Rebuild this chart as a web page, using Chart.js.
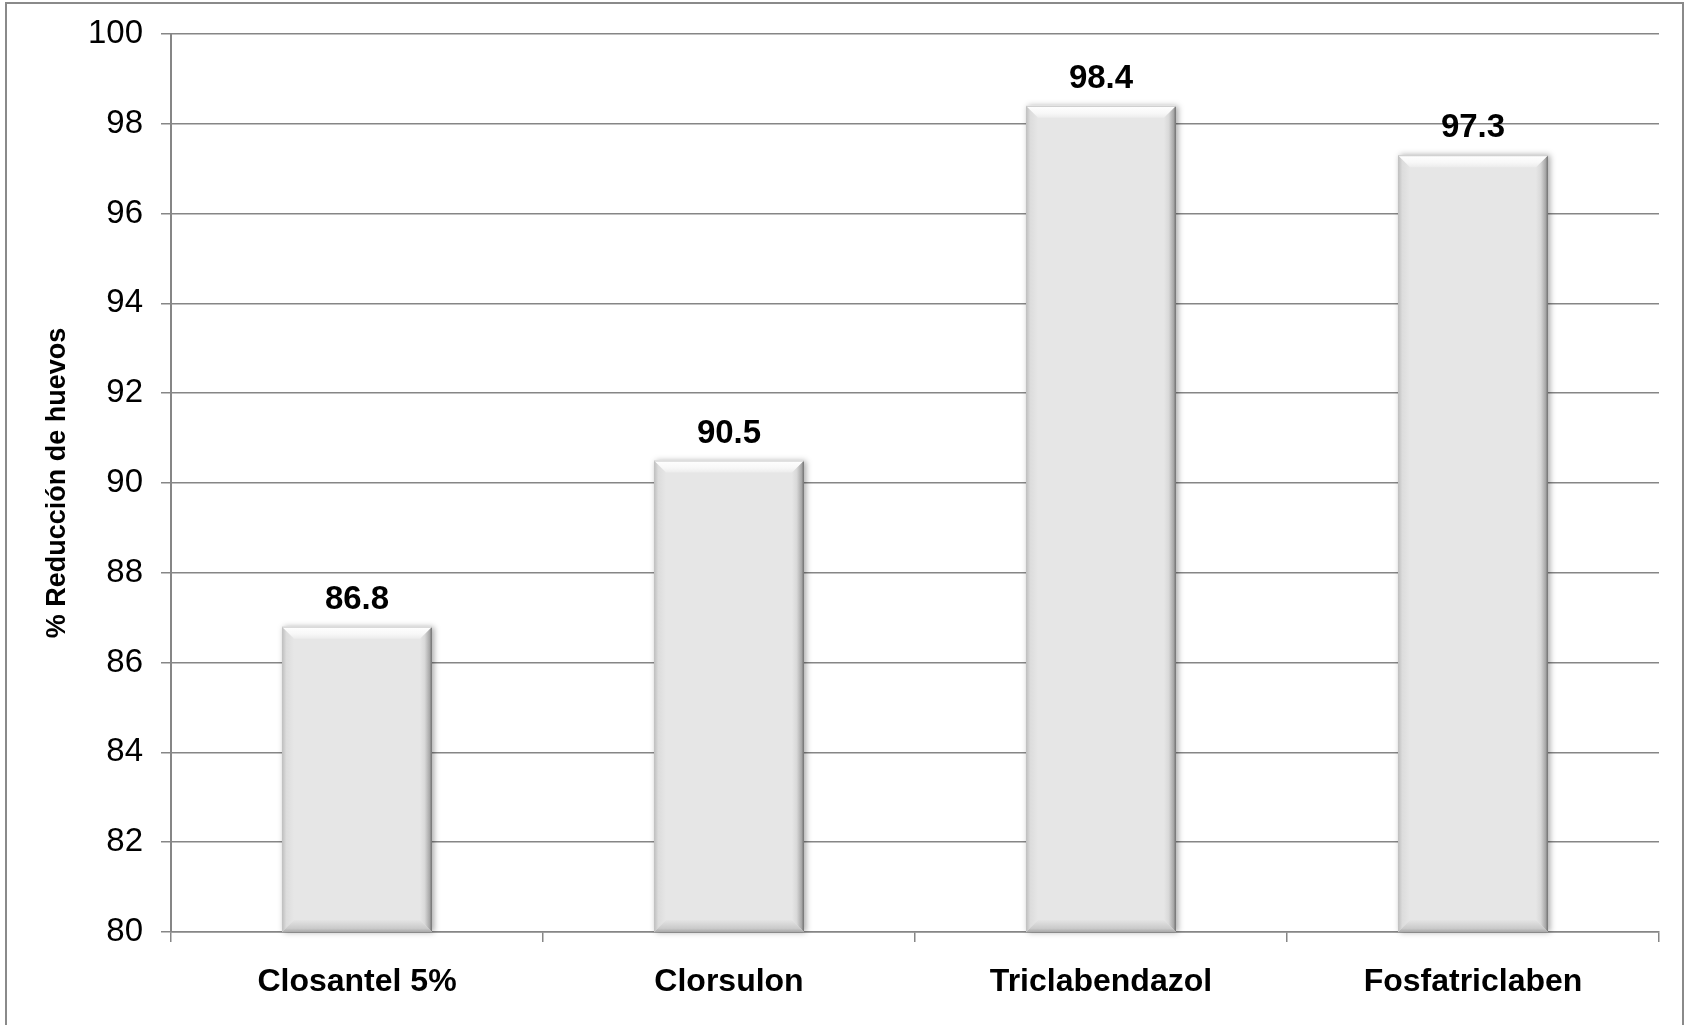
<!DOCTYPE html>
<html>
<head>
<meta charset="utf-8">
<title>% Reducción de huevos</title>
<script src="https://cdn.jsdelivr.net/npm/chart.js@4.4.1/dist/chart.umd.min.js"></script>
<style>
  html, body { margin: 0; padding: 0; background: #ffffff; }
  canvas { display: block; }
</style>
</head>
<body>
<canvas id="chart" width="1688" height="1025"></canvas>
<script>
// Egg count reduction per treatment
const categories = ['Closantel 5%', 'Clorsulon', 'Triclabendazol', 'Fosfatriclaben'];
const reduction = [86.8, 90.5, 98.4, 97.3];
const yMin = 80;
const yMax = 100;
const yStep = 2;

const FONT = "'Liberation Sans', Arial, Helvetica, sans-serif";
const AXIS_GRAY = '#868686';

// Outer frame around the whole chart
const framePlugin = {
  id: 'frame',
  beforeDraw(chart) {
    const ctx = chart.ctx;
    ctx.save();
    ctx.strokeStyle = '#8a8a8a';
    ctx.lineWidth = 2;
    ctx.strokeRect(6, 3, chart.width - 11, chart.height + 10);
    ctx.restore();
  }
};

// Bar geometry in pixels, with the base held at the bottom of the plot area
function barBox(chart, bar) {
  const { x, y, base, width } = bar.getProps(['x', 'y', 'base', 'width'], true);
  const bottom = Math.min(base, chart.chartArea.bottom);
  return { x, l: x - width / 2, r: x + width / 2, t: y, bo: bottom, width };
}

// Soft drop shadow behind each bar
const barShadowPlugin = {
  id: 'barShadow',
  beforeDatasetsDraw(chart) {
    const ctx = chart.ctx;
    const meta = chart.getDatasetMeta(0);
    ctx.save();
    meta.data.forEach(bar => {
      const { l, t, bo, width } = barBox(chart, bar);
      ctx.shadowColor = 'rgba(0,0,0,0.35)';
      ctx.shadowBlur = 6;
      ctx.shadowOffsetX = 2;
      ctx.shadowOffsetY = 0;
      ctx.fillStyle = '#e6e6e6';
      ctx.fillRect(l, t, width, bo - t);
    });
    ctx.restore();
  }
};

// Bevelled edges on the bars plus the value label above each one
const bevelPlugin = {
  id: 'bevel',
  afterDatasetsDraw(chart) {
    const ctx = chart.ctx;
    const meta = chart.getDatasetMeta(0);
    const b = 12;
    ctx.save();
    meta.data.forEach((bar, i) => {
      const { x, l, r, t, bo } = barBox(chart, bar);

      const poly = (pts, fill) => {
        ctx.beginPath();
        ctx.moveTo(pts[0][0], pts[0][1]);
        for (let k = 1; k < pts.length; k++) ctx.lineTo(pts[k][0], pts[k][1]);
        ctx.closePath();
        ctx.fillStyle = fill;
        ctx.fill();
      };

      // left face
      let g = ctx.createLinearGradient(l, 0, l + b, 0);
      g.addColorStop(0, '#bdbdbd');
      g.addColorStop(0.35, '#dcdcdc');
      g.addColorStop(1, '#e6e6e6');
      poly([[l, t], [l + b, t + b], [l + b, bo - b], [l, bo]], g);

      // right face
      g = ctx.createLinearGradient(r, 0, r - b, 0);
      g.addColorStop(0, '#6c6c6c');
      g.addColorStop(0.2, '#a8a8a8');
      g.addColorStop(0.6, '#d8d8d8');
      g.addColorStop(1, '#e6e6e6');
      poly([[r, t], [r, bo], [r - b, bo - b], [r - b, t + b]], g);

      // top face
      g = ctx.createLinearGradient(0, t, 0, t + b);
      g.addColorStop(0, '#ffffff');
      g.addColorStop(0.6, '#f8f8f8');
      g.addColorStop(1, '#ececec');
      poly([[l, t], [r, t], [r - b, t + b], [l + b, t + b]], g);

      // bottom face
      g = ctx.createLinearGradient(0, bo, 0, bo - b);
      g.addColorStop(0, '#a8a8a8');
      g.addColorStop(0.3, '#cacaca');
      g.addColorStop(1, '#e4e4e4');
      poly([[l, bo], [r, bo], [r - b, bo - b], [l + b, bo - b]], g);

      // top rim
      ctx.strokeStyle = '#c8c8c8';
      ctx.lineWidth = 1;
      ctx.beginPath();
      ctx.moveTo(l, t + 0.5);
      ctx.lineTo(r, t + 0.5);
      ctx.stroke();

      // value label
      ctx.fillStyle = '#000000';
      ctx.font = 'bold 33px ' + FONT;
      ctx.textAlign = 'center';
      ctx.textBaseline = 'alphabetic';
      ctx.fillText(reduction[i].toFixed(1), x, t - 18);
    });
    ctx.restore();
  }
};

new Chart(document.getElementById('chart'), {
  type: 'bar',
  data: {
    labels: categories,
    datasets: [{
      data: reduction,
      backgroundColor: '#e6e6e6',
      borderWidth: 0,
      barPercentage: 0.403,
      categoryPercentage: 1.0
    }]
  },
  options: {
    responsive: false,
    animation: false,
    devicePixelRatio: 1,
    layout: { padding: { left: 0, right: 29, top: 20, bottom: 0 } },
    plugins: {
      legend: { display: false },
      tooltip: { enabled: false }
    },
    scales: {
      x: {
        grid: {
          display: true,
          drawOnChartArea: false,
          drawTicks: true,
          tickLength: 10,
          color: AXIS_GRAY,
          lineWidth: 1.5
        },
        border: { display: true, color: AXIS_GRAY, width: 1.5 },
        ticks: {
          color: '#000000',
          padding: 21,
          font: { family: FONT, size: 32, weight: 'bold' }
        },
        afterFit(scale) { scale.height = 93; }
      },
      y: {
        min: yMin,
        max: yMax,
        ticks: {
          stepSize: yStep,
          color: '#000000',
          padding: 18,
          font: { family: FONT, size: 33, lineHeight: 0.97 }
        },
        grid: {
          color: AXIS_GRAY,
          lineWidth: 1.5,
          tickLength: 10
        },
        border: { display: true, color: AXIS_GRAY, width: 2 },
        title: {
          display: true,
          text: '% Reducción de huevos',
          color: '#000000',
          font: { family: FONT, size: 27, weight: 'bold' },
          padding: { top: 41, bottom: 0 }
        },
        afterFit(scale) { scale.width = 171; }
      }
    }
  },
  plugins: [framePlugin, barShadowPlugin, bevelPlugin]
});
</script>
</body>
</html>
